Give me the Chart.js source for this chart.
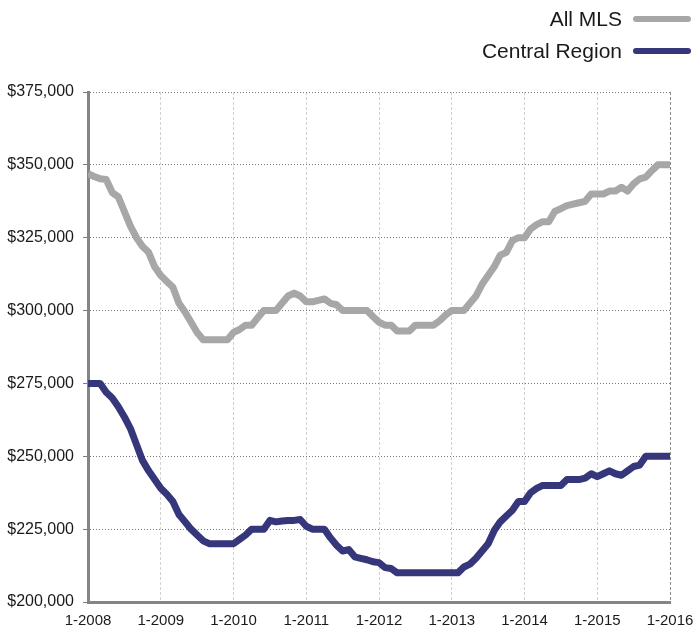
<!DOCTYPE html>
<html>
<head>
<meta charset="utf-8">
<script src="https://cdn.jsdelivr.net/npm/chart.js@4"></script>
<style>
  html, body { margin: 0; padding: 0; background: #fff; }
  #wrap { width: 697px; height: 631px; }
</style>
</head>
<body>
<div id="wrap"><canvas id="priceChart" width="697" height="631"></canvas></div>
<script>
// tick labels on the x axis (one per January)
var yearLabels = ['1-2008', '1-2009', '1-2010', '1-2011', '1-2012', '1-2013', '1-2014', '1-2015', '1-2016'];
var seriesNames = ['All MLS', 'Central Region'];

// monthly values, Jan 2008 .. Jan 2016
var allMls = [
    347000, 346000, 345200, 345000, 340500, 339000, 334000, 329000, 325000, 322000, 320000, 315000,
    312000, 310000, 308000, 302500, 299500, 296000, 292500, 290000, 290000, 290000, 290000, 290000,
    292500, 293500, 295000, 295000, 297500, 300000, 300000, 300000, 302500, 305000, 306000, 305000,
    303000, 303000, 303500, 304000, 302500, 302000, 300000, 300000, 300000, 300000, 300000, 298000,
    296000, 295000, 295000, 293000, 293000, 293000, 295000, 295000, 295000, 295000, 296500, 298500,
    300000, 300000, 300000, 302500, 305000, 309000, 312000, 315000, 319000, 320000, 324000, 325000,
    325000, 328000, 329500, 330500, 330500, 334000, 335000, 336000, 336500, 337000, 337500, 340000,
    340000, 340000, 341000, 341000, 342300, 341000, 343500, 345200, 345800, 348000, 350000, 350000,
    350000
];
var centralRegion = [
    275000, 275000, 275000, 272000, 270000, 267000, 263500, 259500, 254000, 248500, 245000, 242000,
    239000, 237000, 234500, 230000, 227500, 225000, 223000, 221000, 220000, 220000, 220000, 220000,
    220000, 221500, 223000, 225000, 225000, 225000, 228000, 227500, 227800, 228000, 228000, 228300,
    226000, 225000, 225000, 225000, 222000, 219500, 217500, 218000, 215500, 215000, 214500, 213800,
    213500, 211800, 211500, 210000, 210000, 210000, 210000, 210000, 210000, 210000, 210000, 210000,
    210000, 210000, 212000, 213000, 215000, 217500, 220000, 224500, 227500, 229500, 231500, 234500,
    234500, 237500, 239000, 240000, 240000, 240000, 240000, 242000, 242000, 242000, 242500, 244000,
    243000, 244000, 245000, 244000, 243500, 245000, 246500, 247000, 250000, 250000, 250000, 250000,
    250000
];

var GREY = '#a7a7a7';
var NAVY = '#36367a';
var FONT = "'Liberation Sans', Arial, sans-serif";

var toPoints = function(arr) {
    return arr.map(function(v, i) { return { x: i, y: v }; });
};

var money = function(v) {
    return '$' + v.toLocaleString('en-US');
};

// legend drawn top right, text left of a short line sample
var rightLegend = {
    id: 'rightLegend',
    afterDraw: function(chart) {
        var ctx = chart.ctx;
        var rows = [
            { name: seriesNames[0], color: GREY, y: 19 },
            { name: seriesNames[1], color: NAVY, y: 51 }
        ];
        ctx.save();
        ctx.font = '21px ' + FONT;
        ctx.textAlign = 'right';
        ctx.textBaseline = 'middle';
        rows.forEach(function(r) {
            ctx.fillStyle = '#1a1a1a';
            ctx.fillText(r.name, 622, r.y + 1);
            ctx.strokeStyle = r.color;
            ctx.lineWidth = 6;
            ctx.lineCap = 'round';
            ctx.beginPath();
            ctx.moveTo(636, r.y);
            ctx.lineTo(688, r.y);
            ctx.stroke();
        });
        ctx.restore();
    }
};

new Chart(document.getElementById('priceChart'), {
    type: 'line',
    data: {
        datasets: [{
            label: seriesNames[0],
            data: toPoints(allMls),
            borderColor: GREY,
            borderWidth: 7,
            pointRadius: 0,
            tension: 0,
            borderJoinStyle: 'round',
            borderCapStyle: 'butt',
            fill: false
        }, {
            label: seriesNames[1],
            data: toPoints(centralRegion),
            borderColor: NAVY,
            borderWidth: 7,
            pointRadius: 0,
            tension: 0,
            borderJoinStyle: 'round',
            borderCapStyle: 'butt',
            fill: false
        }]
    },
    options: {
        responsive: false,
        animation: false,
        devicePixelRatio: 1,
        layout: { padding: { top: 92, right: 27, left: 0, bottom: 0 } },
        plugins: {
            legend: { display: false },
            tooltip: { enabled: false }
        },
        scales: {
            x: {
                type: 'linear',
                min: 0,
                max: 96,
                afterFit: function(s) {
                    s.height = 29;
                    s.paddingLeft = 0;
                    s.paddingRight = 0;
                },
                afterBuildTicks: function(s) {
                    s.ticks = yearLabels.map(function(l, i) { return { value: i * 12 }; });
                },
                ticks: {
                    callback: function(v) { return yearLabels[v / 12]; },
                    color: '#1a1a1a',
                    font: { family: FONT, size: 15 },
                    padding: 10,
                    maxRotation: 0,
                    autoSkip: false
                },
                grid: {
                    color: function(c) { return c.index === yearLabels.length - 1 ? '#8a8a8a' : '#d0d0d0'; },
                    lineWidth: 1,
                    drawTicks: false
                },
                border: { display: true, color: '#858585', width: 3, dash: [3, 2] }
            },
            y: {
                min: 200000,
                max: 375000,
                afterFit: function(s) {
                    s.width = 88;
                    s.paddingTop = 0;
                    s.paddingBottom = 0;
                },
                afterBuildTicks: function(s) {
                    var t = [];
                    for (var v = 200000; v <= 375000; v += 25000) t.push({ value: v });
                    s.ticks = t;
                },
                ticks: {
                    callback: function(v) { return money(v); },
                    color: '#1a1a1a',
                    font: { family: FONT, size: 16 },
                    padding: 9
                },
                grid: {
                    color: '#7a7a7a',
                    lineWidth: 1,
                    tickLength: 5
                },
                border: { display: true, color: '#858585', width: 3, dash: [1, 2] }
            }
        }
    },
    plugins: [rightLegend]
});
</script>
</body>
</html>
